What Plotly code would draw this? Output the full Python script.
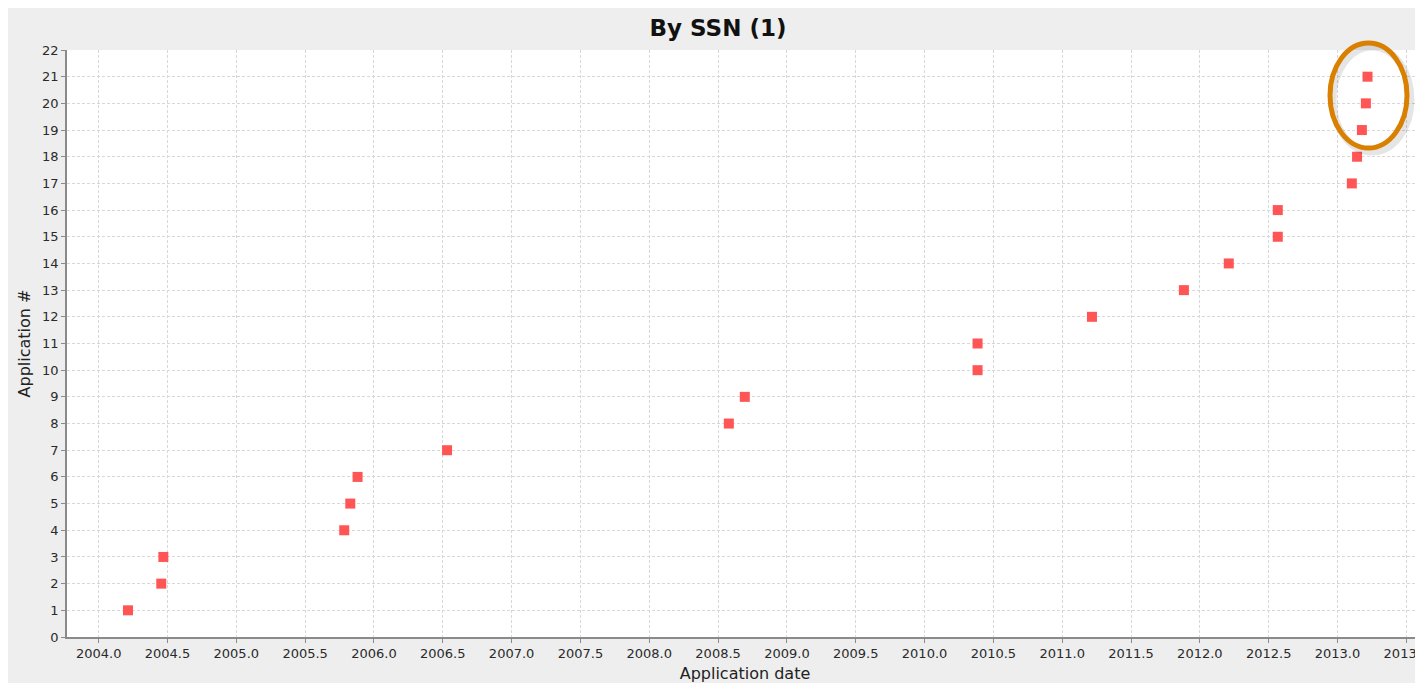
import plotly.graph_objects as go

# Data
application_date = [2004.213, 2004.455, 2004.470, 2005.784, 2005.828, 2005.881,
                    2006.531, 2008.578, 2008.694, 2010.385, 2010.385, 2011.216,
                    2011.884, 2012.210, 2012.566, 2012.566, 2013.104, 2013.142,
                    2013.177, 2013.206, 2013.218]
application_num = list(range(1, 22))

x_ticks = [2004.0 + 0.5 * i for i in range(20)]
x_tick_labels = [f"{v:.1f}" for v in x_ticks]
y_ticks = list(range(0, 23))

# page has an 8px body margin; figure spans page 8..1423 x 8..683
OFF = 8
W, H = 1415, 675
PLOT_L, PLOT_R, PLOT_T, PLOT_B = 67, 1423, 50, 637   # page pixels
L = PLOT_L - OFF
T = PLOT_T - OFF
R = (W + OFF) - PLOT_R
B = (H + OFF) - PLOT_B
pw, ph = PLOT_R - PLOT_L, PLOT_B - PLOT_T

def px(xp):
    return (xp - PLOT_L) / pw

def py(yp):
    return (PLOT_B - yp) / ph

fig = go.Figure()
fig.add_trace(go.Scatter(
    x=application_date, y=application_num, mode="markers",
    marker=dict(symbol="square", size=10, color="#FF5555",
                line=dict(width=0)),
    hoverinfo="x+y", showlegend=False,
))

shapes = [
    # soft ellipse shadow
    dict(type="circle", xref="paper", yref="paper",
         x0=px(1333), x1=px(1411), y0=py(152), y1=py(47),
         line=dict(color="rgba(0,0,0,0.10)", width=7), layer="above"),
    # highlight ellipse
    dict(type="circle", xref="paper", yref="paper",
         x0=px(1330), x1=px(1407), y0=py(148), y1=py(43),
         line=dict(color="#D98000", width=5), layer="above"),
]

axis_font = dict(family="DejaVu Sans", size=13, color="#2A2A2A")
fig.update_layout(
    width=W, height=H,
    margin=dict(l=L, r=R, t=T, b=B, autoexpand=False),
    paper_bgcolor="#EEEEEE", plot_bgcolor="white",
    shapes=shapes,
    title=dict(text="<b>By SSN (1)</b>", x=(718 - OFF) / W, xref="container",
               xanchor="center", y=1 - (28 - OFF) / H, yref="container",
               yanchor="middle",
               font=dict(family="DejaVu Sans", size=23, color="#111111")),
    xaxis=dict(
        range=[2003.770, 2013.621], tickvals=x_ticks, ticktext=x_tick_labels,
        showgrid=True, gridcolor="#D8D8D8", griddash="3px,2px", gridwidth=1,
        showline=True, linecolor="#8A8A8A", linewidth=1.5,
        ticks="outside", ticklen=4, tickcolor="#8A8A8A",
        tickfont=axis_font, zeroline=False, ticklabeloverflow="allow",
        title=dict(text="Application date", standoff=7,
                   font=dict(family="DejaVu Sans", size=16, color="#222222")),
    ),
    yaxis=dict(
        range=[0, 22], tickvals=y_ticks,
        showgrid=True, gridcolor="#D8D8D8", griddash="3px,2px", gridwidth=1,
        showline=True, linecolor="#8A8A8A", linewidth=1.5,
        ticks="outside", ticklen=4, tickcolor="#8A8A8A",
        tickfont=axis_font, zeroline=False,
        title=dict(text="Application #", standoff=8,
                   font=dict(family="DejaVu Sans", size=16, color="#222222")),
    ),
)

fig.write_html("out.html")
